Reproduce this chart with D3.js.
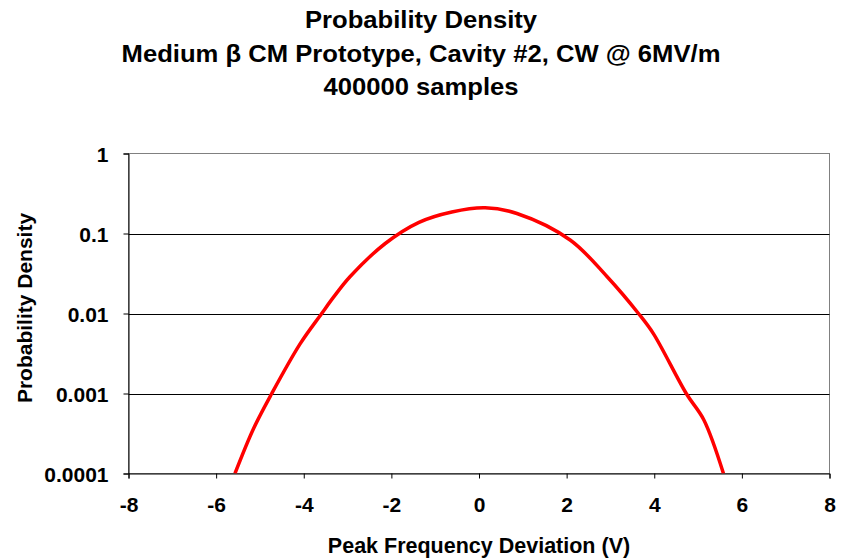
<!DOCTYPE html>
<html><head><meta charset="utf-8">
<script src="https://cdn.jsdelivr.net/npm/d3@7"></script>
<style>body{margin:0;background:#fff}svg{display:block}text{font-family:"Liberation Sans",Arial,sans-serif;font-weight:bold;fill:#000}</style>
</head><body>
<svg id="c" width="847" height="558"></svg>
<script>
const titleLines = ["Probability Density", "Medium \u03b2 CM Prototype, Cavity #2, CW @ 6MV/m", "400000 samples"];
const xLabel = "Peak Frequency Deviation (V)";
const yLabel = "Probability Density";
const xTicks = [-8, -6, -4, -2, 0, 2, 4, 6, 8];
const yTicks = [0.0001, 0.001, 0.01, 0.1, 1];
const yTickLabels = ["0.0001", "0.001", "0.01", "0.1", "1"];
const deviation = [-5.57, -5.15, -4.73, -4.08, -3.59, -3.32, -2.94, -2.14, -1.37, -0.62, 0.14, 0.865, 2.08, 2.92, 3.64, 3.98, 4.73, 5.13, 5.58];
const density = [0.0001, 0.00036, 0.001, 0.0042, 0.01, 0.016, 0.029, 0.075, 0.138, 0.186, 0.21, 0.178, 0.083, 0.029, 0.01, 0.0056, 0.001, 0.00047, 0.0001];

const svg = d3.select("#c");
const L = 128.5, R = 829.5, T = 153.5, B = 473.5;
const x = d3.scaleLinear().domain([-8, 8]).range([L, R]);
const y = d3.scaleLog().domain([0.0001, 1]).range([B, T]);

// titles
svg.selectAll("text.title").data(titleLines).enter().append("text")
  .attr("class", "title")
  .attr("transform", (d, i) => `translate(421,${28 + i * 33.5}) scale(1.115,1)`)
  .attr("text-anchor", "middle").style("font-size", "23px").text(d => d);

// plot border (grey)
svg.append("rect").attr("x", L).attr("y", T).attr("width", R - L).attr("height", B - T)
  .attr("fill", "none").attr("stroke", "#808080").attr("stroke-width", 1);

// gridlines
svg.append("g").selectAll("line").data(yTicks.slice(1, 4)).enter().append("line")
  .attr("x1", L).attr("x2", R).attr("y1", d => Math.round(y(d)) + 0.5).attr("y2", d => Math.round(y(d)) + 0.5)
  .attr("stroke", "#000").attr("stroke-width", 1);

// axes
const xAxis = d3.axisBottom(x).tickValues(xTicks).tickSize(5).tickPadding(19).tickFormat(d => String(d));
const gx = svg.append("g").attr("transform", `translate(0,${B})`).call(xAxis);
const yAxis = d3.axisLeft(y).tickValues(yTicks).tickSize(5).tickPadding(15).tickFormat((d, i) => yTickLabels[i]);
const gy = svg.append("g").attr("transform", `translate(${L},0)`).call(yAxis);
svg.selectAll(".domain").attr("stroke", "#000");
svg.selectAll(".tick line").attr("stroke", "#000");
svg.selectAll(".tick text").style("font-size", "21px");
gy.selectAll(".tick text").attr("dy", "0.36em");
svg.selectAll("g").attr("font-family", null).attr("font-size", null);

// axis titles
svg.append("text").attr("x", 479).attr("y", 553).attr("text-anchor", "middle").style("font-size", "21.5px").text(xLabel);
svg.append("text").attr("transform", "translate(32,308) rotate(-90)").attr("text-anchor", "middle").style("font-size", "21px").text(yLabel);

// clip
svg.append("clipPath").attr("id", "clip").append("rect").attr("x", L).attr("y", T).attr("width", R - L).attr("height", B - T);

const line = d3.line().x((d, i) => x(deviation[i])).y(d => y(d)).curve(d3.curveCatmullRom.alpha(0.5));
svg.append("path").datum(density).attr("d", line).attr("clip-path", "url(#clip)")
  .attr("fill", "none").attr("stroke", "#ff0000").attr("stroke-width", 3.5).attr("stroke-linejoin", "round");
</script>
</body></html>
